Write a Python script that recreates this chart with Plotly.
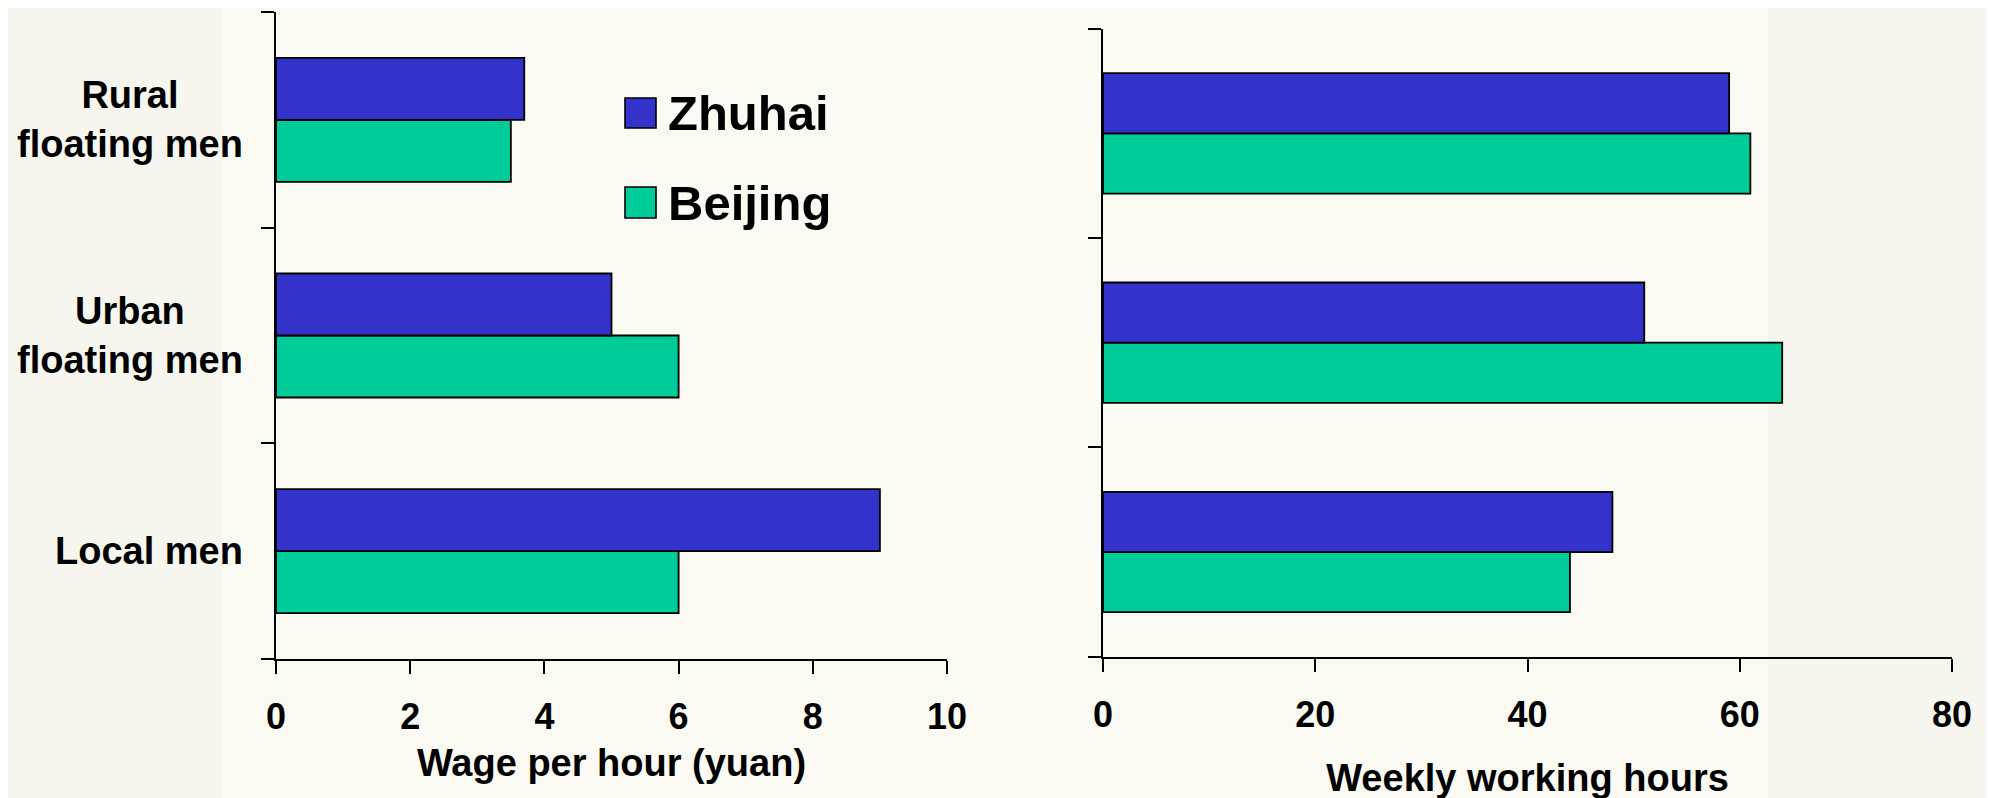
import plotly.graph_objects as go

# ---- data ----
categories = ["Local men", "Urban floating men", "Rural floating men"]
category_labels = ["Local men", "Urban<br>floating men", "Rural<br>floating men"]
series_names = ["Zhuhai", "Beijing"]
series_colors = ["#3333CC", "#00CC99"]
wage_zhuhai = [9.0, 5.0, 3.7]
wage_beijing = [6.0, 6.0, 3.5]
hours_zhuhai = [48, 51, 59]
hours_beijing = [44, 64, 61]
wage_ticks = [0, 2, 4, 6, 8, 10]
hours_ticks = [0, 20, 40, 60, 80]
wage_title = "Wage per hour (yuan)"
hours_title = "Weekly working hours"

W, H = 1995, 798
OFF = 8  # page body margin offset
FONT = "Liberation Sans, Arial, Helvetica, sans-serif"


def px(x):
    return (x - OFF) / W


def py(y):
    return 1 - (y - OFF) / H


fig = go.Figure()

panels = [("x", "y", wage_zhuhai, wage_beijing), ("x2", "y2", hours_zhuhai, hours_beijing)]
for xa, ya, zh, bj in panels:
    # Beijing first so it is drawn below Zhuhai within each group
    for name, color, vals in [(series_names[1], series_colors[1], bj), (series_names[0], series_colors[0], zh)]:
        fig.add_trace(go.Bar(
            y=categories, x=vals, orientation="h", name=name,
            marker=dict(color=color, line=dict(color="black", width=1.8)),
            xaxis=xa, yaxis=ya, showlegend=False,
        ))

tickfont = dict(family=FONT, size=36, color="black", weight="bold")
common_x = dict(showline=True, linecolor="black", linewidth=2, ticks="outside", ticklen=13,
                tickwidth=2, tickcolor="black", showgrid=False, zeroline=False,
                tickfont=tickfont, ticklabelstandoff=12, automargin=False)
common_y = dict(type="category", categoryorder="array", categoryarray=categories,
                range=[-0.5, 2.5], tickson="boundaries", ticks="outside", ticklen=13,
                tickwidth=2, tickcolor="black", showline=True, linecolor="black", linewidth=2,
                showgrid=False, zeroline=False, showticklabels=False, automargin=False)

fig.update_layout(
    width=W, height=H,
    margin=dict(l=0, r=0, t=0, b=0, pad=0, autoexpand=False),
    paper_bgcolor="#f6f6ee",
    plot_bgcolor="rgba(0,0,0,0)",
    barmode="group", bargap=0.425, bargroupgap=0,
    font=dict(family=FONT, color="black"),
    xaxis=dict(domain=[px(276), px(947)], range=[0, 10], tickvals=wage_ticks, anchor="y",
               title=dict(text=wage_title, font=dict(family=FONT, size=38, weight="bold"), standoff=13),
               **common_x),
    yaxis=dict(domain=[py(659), py(12)], anchor="x", **common_y),
    xaxis2=dict(domain=[px(1103), px(1952)], range=[0, 80], tickvals=hours_ticks, anchor="y2",
                title=dict(text=hours_title, font=dict(family=FONT, size=38, weight="bold"), standoff=30),
                **common_x),
    yaxis2=dict(domain=[py(656.7), py(28.7)], anchor="x2", **common_y),
    showlegend=False,
)

# lighter inner panel
fig.add_shape(type="rect", xref="paper", yref="paper", x0=px(221), x1=px(1768), y0=0, y1=1,
              fillcolor="#fafaf2", line=dict(width=0), layer="below")

# category labels (centered lines, right-aligned block)
for cat, lab in zip(categories, category_labels):
    fig.add_annotation(x=0, xref="x domain", y=cat, yref="y", text=lab, showarrow=False,
                       xanchor="right", yanchor="middle", xshift=-31, align="center",
                       font=dict(family=FONT, size=38, color="black", weight="bold"))

# custom legend
legend_rows = [(series_names[0], series_colors[0], 98, 128, 113),
               (series_names[1], series_colors[1], 187, 218, 203)]
for name, color, top, bot, mid in legend_rows:
    fig.add_shape(type="rect", xref="paper", yref="paper", x0=px(625), x1=px(656),
                  y0=py(bot), y1=py(top), fillcolor=color, line=dict(color="black", width=1.6))
    fig.add_annotation(x=px(666), xref="paper", y=py(mid), yref="paper", text=name,
                       showarrow=False, xanchor="left", yanchor="middle",
                       font=dict(family=FONT, size=49, color="black", weight="bold"))

fig.write_html("out.html")
